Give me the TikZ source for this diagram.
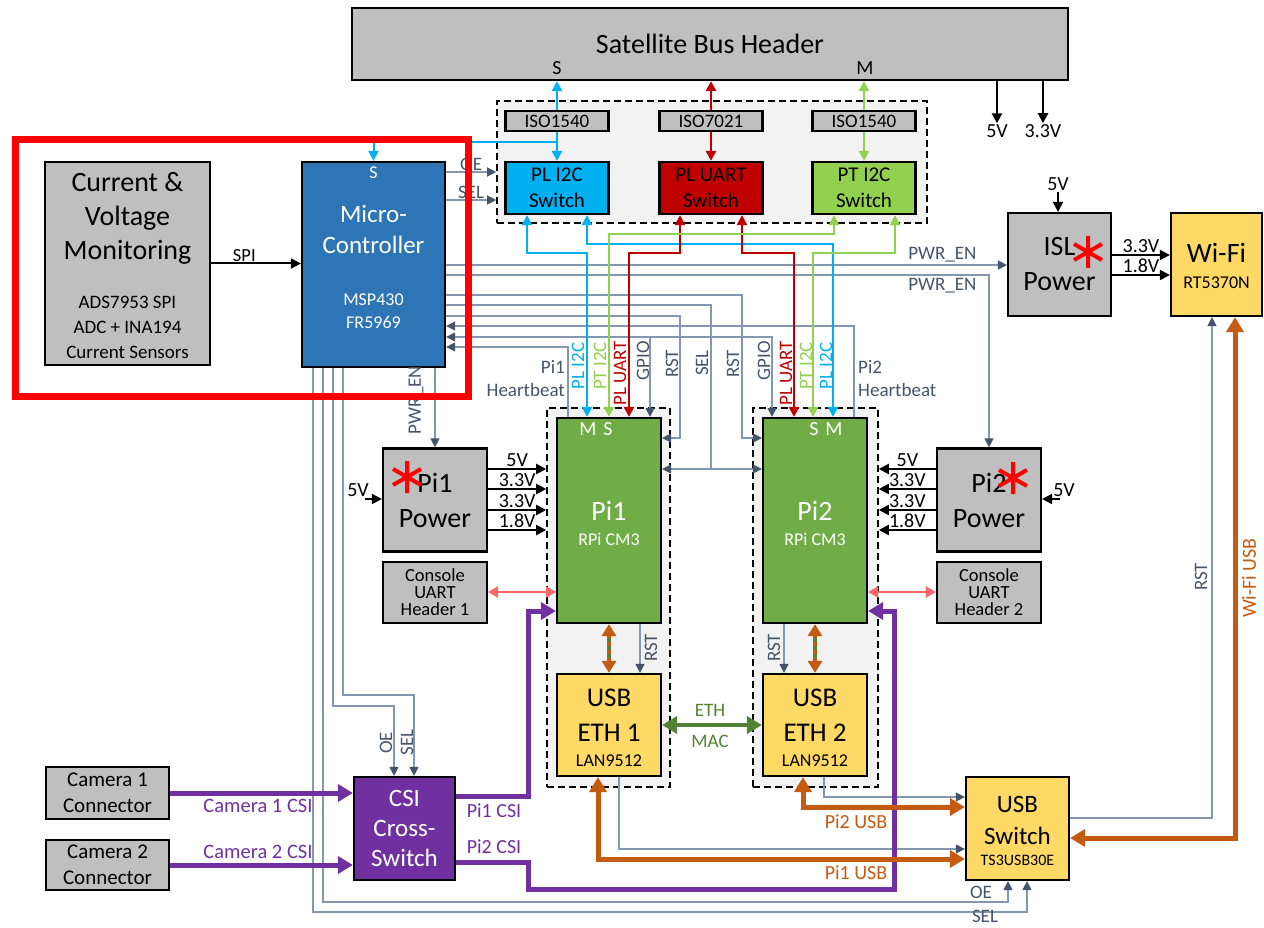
\documentclass[tikz,border=0pt]{standalone}
\usepackage{fontspec}
\setmainfont{Carlito}
\usepackage{tikz}
\usetikzlibrary{arrows.meta, positioning, calc}
\definecolor{boxgrey}{RGB}{191, 191, 191}
\definecolor{grpfill}{RGB}{242, 242, 242}
\definecolor{mcublue}{RGB}{46, 117, 182}
\definecolor{i2cblue}{RGB}{0, 176, 240}
\definecolor{uartred}{RGB}{192, 0, 0}
\definecolor{i2cgreen}{RGB}{146, 208, 80}
\definecolor{pigreen}{RGB}{112, 173, 71}
\definecolor{usbyellow}{RGB}{255, 217, 102}
\definecolor{csipurple}{RGB}{112, 48, 160}
\definecolor{usborange}{RGB}{197, 90, 17}
\definecolor{ethgreen}{RGB}{84, 130, 53}
\definecolor{conred}{RGB}{255, 102, 102}
\definecolor{sigline}{RGB}{132, 151, 176}
\definecolor{sigdark}{RGB}{68, 84, 106}
\newcommand{\fsz}[2]{\fontsize{#1}{#2}\selectfont}

\begin{document}
\begin{tikzpicture}[
    x=1pt, y=-1pt,
    greybox/.style={rectangle, draw=black, line width=2.2pt, fill=boxgrey, inner sep=0pt, align=center},
    block/.style={rectangle, draw=black, line width=2.2pt, fill=#1, inner sep=0pt, align=center},
    grp/.style={rectangle, draw=black, line width=1.6pt, dash pattern=on 7pt off 4pt, fill=grpfill, inner sep=0pt},
    sig/.style={draw=sigline, line width=1.2pt},
    sigto/.style={sig, -{Triangle[length=9pt, width=9pt, color=sigdark]}},
    sigboth/.style={sig, {Triangle[length=9pt, width=9pt, color=sigdark]}-{Triangle[length=9pt, width=9pt, color=sigdark]}},
    bus/.style={draw=#1, line width=2.5pt, {Triangle[length=10pt, width=10pt]}-{Triangle[length=10pt, width=10pt]}},
    busto/.style={draw=#1, line width=2.5pt, -{Triangle[length=10pt, width=10pt]}},
    fat/.style={draw=#1, line width=5pt, -{Triangle[length=15pt, width=17pt]}},
    fatboth/.style={draw=#1, line width=5pt, {Triangle[length=15pt, width=17pt]}-{Triangle[length=15pt, width=17pt]}},
    usbeth/.style={draw=usborange, line width=3.5pt, {Triangle[length=12pt, width=14pt]}-{Triangle[length=12pt, width=14pt]}},
    stripe/.style={draw=ethgreen, line width=3.5pt, dash pattern=on 4pt off 4pt, shorten <=14pt, shorten >=14pt},
    pwr/.style={draw=black, line width=2pt, -{Triangle[length=10pt, width=10pt]}},
    con/.style={draw=conred, line width=2.2pt, {Triangle[length=10pt, width=11pt]}-{Triangle[length=10pt, width=11pt]}},
    lbl/.style={font=\fsz{19}{23}, text=sigdark, inner sep=0pt},
    clbl/.style={font=\fsz{19}{23}, text=#1, inner sep=0pt},
    vlbl/.style={font=\fsz{20}{22}, inner sep=1pt},
    wtxt/.style={text=white, inner sep=0pt, align=center},
    redstar/.pic={\draw[red, line width=4pt] (0,-16) -- (0,16) (-14,-8) -- (14,8) (-14,8) -- (14,-8);}
  ]
  \useasboundingbox (0,0) rectangle (1264,928);

  % Dashed groups
  \node[grp, minimum width=430, minimum height=122] (isogrp) at (712,162) {};
  \node[grp, minimum width=123, minimum height=379] (pi1grp) at (608.5,597.5) {};
  \node[grp, minimum width=125, minimum height=379] (pi2grp) at (815.5,597.5) {};

  % Header
  \node[greybox, minimum width=716, minimum height=72, font=\fsz{28}{34}] (hdr) at (710,44) {Satellite Bus Header};
  \node[font=\fsz{20}{24}, inner sep=0pt] (hdrs) at (557,68) {S};
  \node[font=\fsz{20}{24}, inner sep=0pt] (hdrm) at (865,68) {M};
  \node[vlbl] (hdrfive) at (997,131) {5V};
  \node[vlbl] (hdrthree) at (1043,131) {3.3V};

  % Isolators and switches
  \node[greybox, minimum width=103, minimum height=20, font=\fsz{19}{22}] (iso1) at (557,121) {ISO1540};
  \node[greybox, minimum width=103, minimum height=20, font=\fsz{19}{22}] (iso2) at (711,121) {ISO7021};
  \node[greybox, minimum width=103, minimum height=20, font=\fsz{19}{22}] (iso3) at (864,121) {ISO1540};
  \node[block=i2cblue, minimum width=103, minimum height=52, font=\fsz{21}{26}] (sw1) at (557,188) {PL I2C\\Switch};
  \node[block=uartred, minimum width=103, minimum height=52, font=\fsz{21}{26}] (sw2) at (711,188) {PL UART\\Switch};
  \node[block=i2cgreen, minimum width=103, minimum height=52, font=\fsz{21}{26}] (sw3) at (864,188) {PT I2C\\Switch};

  % Monitoring and micro-controller
  \node[greybox, minimum width=165, minimum height=203] (cvm) at (127.5,263.5) {};
  \node[font=\fsz{28}{34}, align=center] (cvmname) at (127.5,218) {Current \&\\Voltage\\Monitoring};
  \node[font=\fsz{19}{25}, align=center] (cvmpart) at (127.5,327) {ADS7953 SPI\\ADC + INA194\\Current Sensors};
  \node[block=mcublue, minimum width=143, minimum height=205] (mcu) at (373.5,264.5) {};
  \node[wtxt, font=\fsz{18}{22}] (mcus) at (373.5,173) {S};
  \node[wtxt, font=\fsz{25}{31}] (mcuname) at (373.5,229) {Micro-\\Controller};
  \node[wtxt, font=\fsz{18}{23}] (mcupart) at (373.5,311) {MSP430\\FR5969};

  % Pi 1 side
  \node[greybox, minimum width=104, minimum height=103, font=\fsz{28}{35}] (pi1pwr) at (435,500) {Pi1\\Power};
  \node[greybox, minimum width=104, minimum height=61, font=\fsz{18.5}{17}] (con1) at (435,592.5) {Console\\UART\\Header 1};
  \node[block=pigreen, minimum width=104, minimum height=205] (pi1) at (609,520.5) {};
  \node[wtxt, font=\fsz{20}{24}] (pi1m) at (588,429) {M};
  \node[wtxt, font=\fsz{20}{24}] (pi1s) at (608,429) {S};
  \node[wtxt, font=\fsz{28}{32}] (pi1name) at (609,511) {Pi1};
  \node[wtxt, font=\fsz{18}{22}] (pi1part) at (609,539) {RPi CM3};
  \node[block=usbyellow, minimum width=104, minimum height=102] (eth1) at (609,725) {};
  \node[font=\fsz{27}{35}, align=center, inner sep=0pt] (eth1name) at (609,715) {USB\\ETH 1};
  \node[font=\fsz{18}{22}, inner sep=0pt] (eth1part) at (609,761) {LAN9512};

  % Pi 2 side
  \node[block=pigreen, minimum width=104, minimum height=205] (pi2) at (815,520.5) {};
  \node[wtxt, font=\fsz{20}{24}] (pi2s) at (814,429) {S};
  \node[wtxt, font=\fsz{20}{24}] (pi2m) at (834,429) {M};
  \node[wtxt, font=\fsz{28}{32}] (pi2name) at (815,511) {Pi2};
  \node[wtxt, font=\fsz{18}{22}] (pi2part) at (815,539) {RPi CM3};
  \node[block=usbyellow, minimum width=104, minimum height=102] (eth2) at (815,725) {};
  \node[font=\fsz{27}{35}, align=center, inner sep=0pt] (eth2name) at (815,715) {USB\\ETH 2};
  \node[font=\fsz{18}{22}, inner sep=0pt] (eth2part) at (815,761) {LAN9512};
  \node[greybox, minimum width=104, minimum height=103, font=\fsz{28}{35}] (pi2pwr) at (989,500) {Pi2\\Power};
  \node[greybox, minimum width=104, minimum height=61, font=\fsz{18.5}{17}] (con2) at (989,592.5) {Console\\UART\\Header 2};

  % ISL power and Wi-Fi
  \node[greybox, minimum width=103, minimum height=103, font=\fsz{28}{35}] (isl) at (1059.5,264.5) {ISL\\Power};
  \node[vlbl] (islvin) at (1058,184) {5V};
  \node[block=usbyellow, minimum width=91, minimum height=103] (wifi) at (1216.5,264.5) {};
  \node[font=\fsz{28}{32}, inner sep=0pt] (wifiname) at (1216.5,253) {Wi-Fi};
  \node[font=\fsz{18}{22}, inner sep=0pt] (wifipart) at (1216.5,283) {RT5370N};

  % Cameras and switches at the bottom
  \node[greybox, minimum width=123, minimum height=52, font=\fsz{21}{26}] (cam1) at (107.5,793) {Camera 1\\Connector};
  \node[greybox, minimum width=123, minimum height=50, font=\fsz{21}{26}] (cam2) at (107.5,865) {Camera 2\\Connector};
  \node[block=csipurple, minimum width=101, minimum height=103, font=\fsz{25}{30}, text=white] (csi) at (404.5,828.5) {CSI\\Cross-\\Switch};
  \node[block=usbyellow, minimum width=103, minimum height=103] (usbsw) at (1017.5,828.5) {};
  \node[font=\fsz{25}{32}, align=center, inner sep=0pt] (usbswname) at (1017.5,820) {USB\\Switch};
  \node[font=\fsz{16}{20}, inner sep=0pt] (usbswpart) at (1017.5,860) {TS3USB30E};

  % Control lines
  \draw[pwr] (cvm.east) -- (mcu.west |- cvm.east) node[vlbl, above, pos=0.37, font=\fsz{18.5}{20}] {SPI};
  \draw[sigto] (mcu.east |- 0,172) -- (isogrp.west |- 0,172) node[lbl, midway, above=1pt] {OE};
  \draw[sigto] (mcu.east |- 0,200) -- (isogrp.west |- 0,200) node[lbl, midway, above=1pt] {SEL};
  \draw[sigto] (mcu.east |- 0,265) -- (isl.west |- 0,265) node[lbl, above=2pt, pos=0.885] {PWR\_EN};
  \draw[sigto] (mcu.east |- 0,275) -| (pi2pwr.north) node[lbl, below=3pt, pos=0.457] {PWR\_EN};
  \draw[sigto] (mcu.east |- 0,295) -| (742,438) -- (pi2.west |- 0,438);
  \draw[sig] (mcu.east |- 0,305) -| (711,469);
  \draw[sigboth] (pi1.east |- 0,469) -- (pi2.west |- 0,469);
  \draw[sigto] (mcu.east |- 0,316) -| (680,438) -- (pi1.east |- 0,438);
  \draw[sigto] (pi2.north -| 854,0) |- (mcu.east |- 0,326);
  \draw[sigboth] (mcu.east |- 0,337) -| (pi2.north -| 772,0);
  \draw[sigto] (650,337) -- (pi1.north -| 650,0);
  \draw[sigto] (pi1.north -| 568,0) |- (mcu.east |- 0,347);
  \draw[sigto] (mcu.south -| pi1pwr.north) -- (pi1pwr.north);
  \draw[sigto] (mcu.south -| 343,0) |- (414,695) -- (csi.north -| 414,0);
  \draw[sigto] (mcu.south -| 333,0) |- (394,706) -- (csi.north -| 394,0);
  \draw[sigto] (mcu.south -| 323,0) |- (1008,902) -- (usbsw.south -| 1008,0);
  \draw[sigto] (mcu.south -| 313,0) |- (1027,912) -- (usbsw.south -| 1027,0);
  \draw[sigto] (pi1.south -| 640,0) -- (eth1.north -| 640,0);
  \draw[sigto] (pi2.south -| 784,0) -- (eth2.north -| 784,0);
  \draw[sigto] (eth2.south -| 824,0) |- (usbsw.west |- 0,797);
  \draw[sigto] (eth1.south -| 619,0) |- (usbsw.west |- 0,849);
  \draw[sigto] (usbsw.east |- 0,818) -| (wifi.south -| 1212,0);

  % Control labels
  \node[lbl, rotate=90] (pwrpi1) at (416,400) {PWR\_EN};
  \node[lbl, align=right, anchor=east] (hb1) at (565,379) {Pi1\\Heartbeat};
  \node[lbl, align=left, anchor=west] (hb2) at (858,379) {Pi2\\Heartbeat};
  \node[lbl, rotate=90] (gpio1) at (643,361) {GPIO};
  \node[lbl, rotate=90] (rst1) at (672,364) {RST};
  \node[lbl, rotate=90] (sel1) at (702,363) {SEL};
  \node[lbl, rotate=90] (rst2) at (733,364) {RST};
  \node[lbl, rotate=90] (gpio2) at (764,361) {GPIO};
  \node[lbl, rotate=90] (rst3) at (651,648) {RST};
  \node[lbl, rotate=90] (rst4) at (774,648) {RST};
  \node[lbl, rotate=90] (csioe) at (386,743) {OE};
  \node[lbl, rotate=90] (csisel) at (407,742) {SEL};
  \node[lbl] (swoe) at (981,892) {OE};
  \node[lbl] (swsel) at (985,916) {SEL};
  \node[lbl, rotate=90] (wifirst) at (1201,577) {RST};

  % Buses
  \draw[busto=i2cblue] (iso1.north) -- (iso1.north |- hdr.south);
  \draw[busto=uartred] (iso2.north) -- (iso2.north |- hdr.south);
  \draw[busto=i2cgreen] (iso3.north) -- (iso3.north |- hdr.south);
  \draw[busto=i2cblue] (iso1.south) -- (sw1.north);
  \draw[busto=uartred] (iso2.south) -- (sw2.north);
  \draw[busto=i2cgreen] (iso3.south) -- (sw3.north);
  \draw[busto=i2cblue, line width=2pt] (iso1.south |- 0,142) -| (mcu.north);
  \draw[bus=i2cblue] (sw1.south -| 527,0) |- (587,253) -- (pi1.north -| 587,0);
  \draw[bus=i2cblue] (sw1.south -| 587,0) |- (833,244) -- (pi2.north -| 833,0);
  \draw[bus=uartred] (sw2.south -| 680,0) |- (629,253) -- (pi1.north -| 629,0);
  \draw[bus=uartred] (sw2.south -| 742,0) |- (794,253) -- (pi2.north -| 794,0);
  \draw[bus=i2cgreen] (sw3.south -| 834,0) |- (609,234) -- (pi1.north -| 609,0);
  \draw[bus=i2cgreen] (sw3.south -| 895,0) |- (813,253) -- (pi2.north -| 813,0);
  \node[clbl=i2cblue, rotate=90] (bl1) at (578,366) {PL I2C};
  \node[clbl=i2cgreen, rotate=90] (gl1) at (600,366) {PT I2C};
  \node[clbl=uartred, rotate=90] (rl1) at (620,373) {PL UART};
  \node[clbl=uartred, rotate=90] (rl2) at (786,373) {PL UART};
  \node[clbl=i2cgreen, rotate=90] (gl2) at (806,366) {PT I2C};
  \node[clbl=i2cblue, rotate=90] (bl2) at (826,366) {PL I2C};

  % Power rails
  \draw[pwr] (hdr.south -| hdrfive) -- (hdrfive.north);
  \draw[pwr] (hdr.south -| hdrthree) -- (hdrthree.north);
  \foreach \y/\v in {469/5V, 489/3.3V, 510/3.3V, 530/1.8V} {
    \draw[pwr] (pi1pwr.east |- 0,\y) -- (pi1grp.west |- 0,\y) node[vlbl, midway, above=0pt] {\v};
    \draw[pwr] (pi2pwr.west |- 0,\y) -- (pi2grp.east |- 0,\y) node[vlbl, midway, above=0pt] {\v};
  }
  \coordinate (pi1vin) at (365,499);
  \draw[pwr] (pi1vin) -- (pi1pwr.west |- pi1vin);
  \node[vlbl] (pi1vinlbl) at (358,490) {5V};
  \coordinate (pi2vin) at (1060,499);
  \draw[pwr] (pi2vin) -- (pi2pwr.east |- pi2vin);
  \node[vlbl] (pi2vinlbl) at (1064,490) {5V};
  \draw[pwr] (islvin.south) -- (islvin.south |- isl.north);
  \draw[pwr] (isl.east |- 0,255) -- (wifi.west |- 0,255) node[vlbl, midway, above=0pt] {3.3V};
  \draw[pwr] (isl.east |- 0,275) -- (wifi.west |- 0,275) node[vlbl, midway, above=0pt] {1.8V};

  % Consoles and Pi to USB ETH
  \draw[con] (con1.east |- 0,592) -- (pi1.west |- 0,592);
  \draw[con] (con2.west |- 0,592) -- (pi2.east |- 0,592);
  \draw[usbeth] (pi1.south) -- (eth1.north);
  \draw[stripe] (pi1.south) -- (eth1.north);
  \draw[usbeth] (pi2.south) -- (eth2.north);
  \draw[stripe] (pi2.south) -- (eth2.north);
  \draw[fatboth=ethgreen, line width=4pt] (eth1.east) -- (eth2.west);
  \node[clbl=ethgreen] (ethlbl) at (710,710) {ETH};
  \node[clbl=ethgreen] (maclbl) at (710,741) {MAC};

  % Camera links
  \draw[fat=csipurple] (cam1.east) -- (csi.west |- cam1.east);
  \draw[fat=csipurple] (cam2.east) -- (csi.west |- cam2.east);
  \draw[fat=csipurple] (csi.east |- 0,796) -| (528,611) -- (pi1.west |- 0,611);
  \draw[fat=csipurple] (csi.east |- 0,862) -| (528,889) -| (894,611) -- (pi2.east |- 0,611);
  \node[clbl=csipurple, font=\fsz{20.5}{23}] (cam1lbl) at (258,806) {Camera 1 CSI};
  \node[clbl=csipurple, font=\fsz{20.5}{23}] (cam2lbl) at (258,852) {Camera 2 CSI};
  \node[clbl=csipurple, font=\fsz{20}{23}] (pi1csi) at (494,811) {Pi1 CSI};
  \node[clbl=csipurple, font=\fsz{20}{23}] (pi2csi) at (494,847) {Pi2 CSI};

  % USB links
  \draw[fatboth=usborange] (eth2.south -| 803,0) |- (usbsw.west |- 0,807);
  \draw[fatboth=usborange] (eth1.south -| 598,0) |- (usbsw.west |- 0,859);
  \draw[fatboth=usborange] (usbsw.east |- 0,838) -| (wifi.south -| 1235,0);
  \node[clbl=usborange, font=\fsz{20}{23}] (pi2usb) at (856,822) {Pi2 USB};
  \node[clbl=usborange, font=\fsz{20}{23}] (pi1usb) at (856,873) {Pi1 USB};
  \node[clbl=usborange, rotate=90, font=\fsz{20}{23}] (wifiusb) at (1249,578) {Wi-Fi USB};

  % Marks
  \pic at (407,477) {redstar};
  \pic at (1013,478) {redstar};
  \pic at (1088,252) {redstar};
  \draw[red, line width=7pt] (15,140) rectangle (468,396);

\end{tikzpicture}
\end{document}
